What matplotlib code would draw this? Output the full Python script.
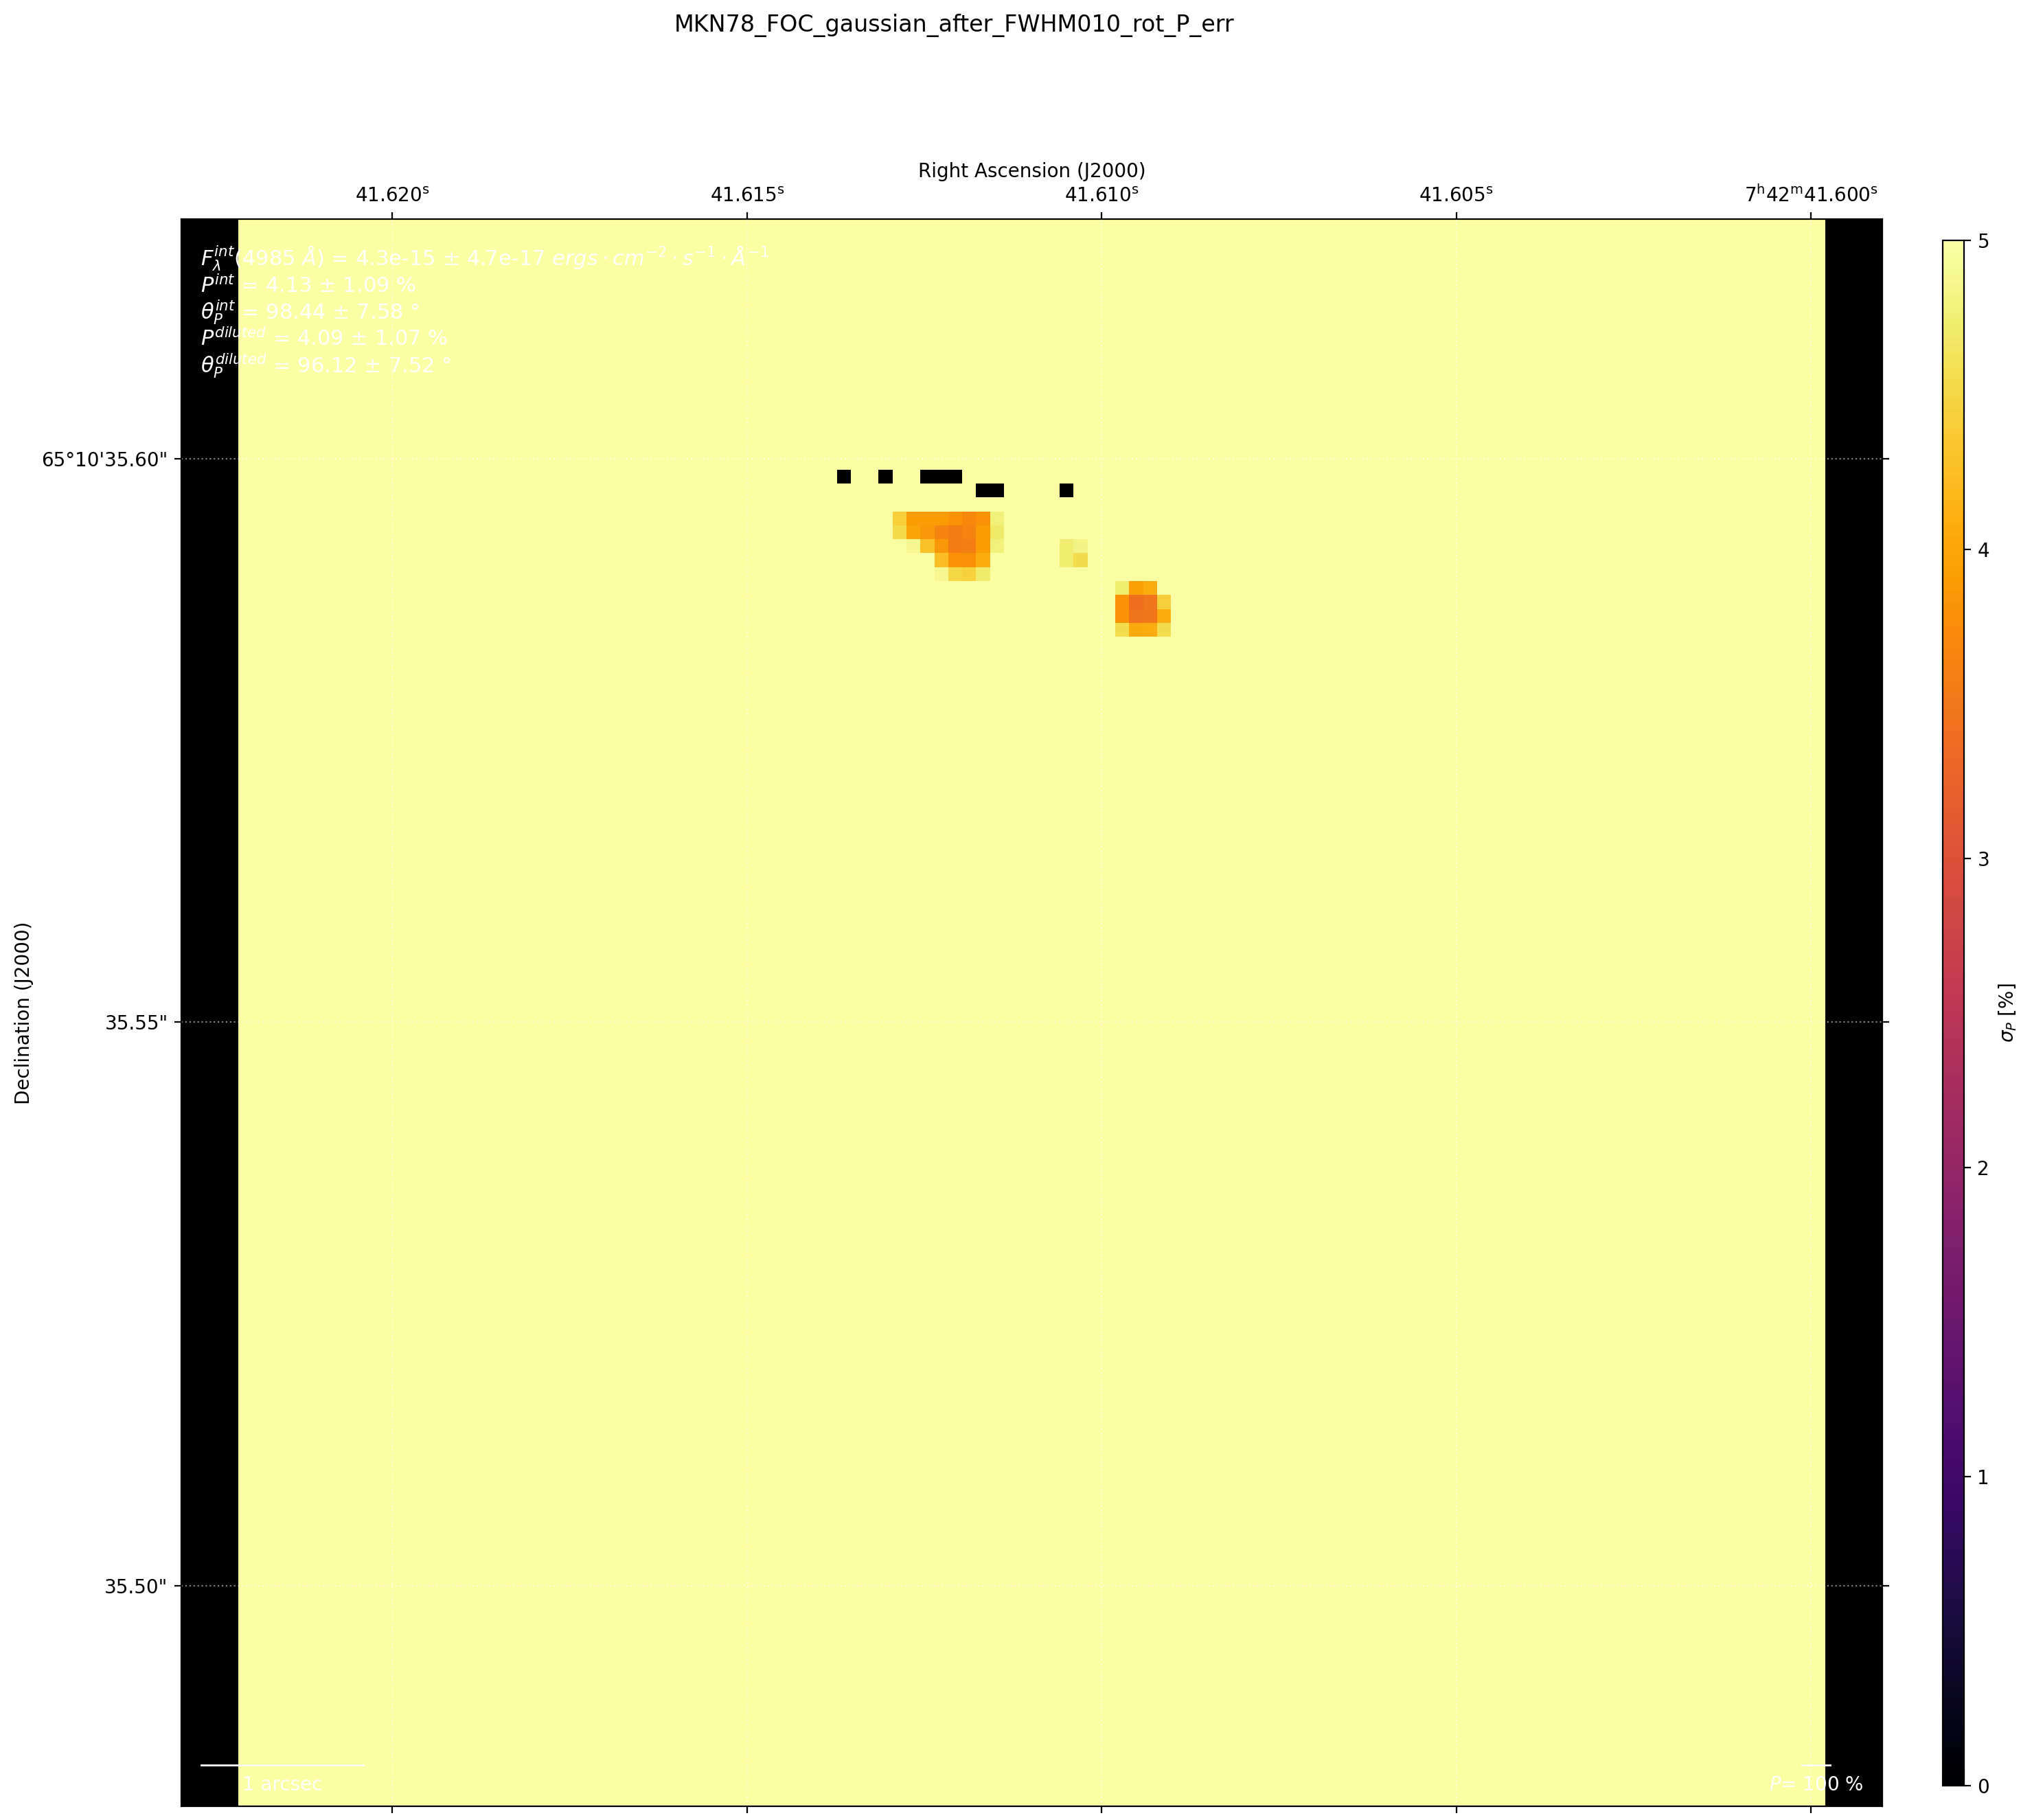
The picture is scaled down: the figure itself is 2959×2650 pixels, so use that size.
import numpy as np
import matplotlib.pyplot as plt

title = "MKN78_FOC_gaussian_after_FWHM010_rot_P_err"

# map size (pixels) and the saturated background value of sigma_P [%]
n_pix = 114
sigma_bg = 5.0

# masked (black) pixels
masked_rows = [18, 18, 18, 18, 18, 19, 19, 19]
masked_cols = [43, 46, 49, 50, 51, 53, 54, 59]

# knots of lower sigma_P, each with (row, col) of its top-left pixel, nan = background
knot1_origin = (21, 47)
knot1 = [[4.40, 3.89, 3.89, 3.89, 3.81, 3.71, 3.79, 4.78],
         [4.55, 4.00, 3.86, 3.65, 3.56, 3.65, 3.89, 4.70],
         [np.nan, 4.90, 4.29, 3.85, 3.56, 3.59, 3.89, 4.78],
         [np.nan, np.nan, np.nan, 4.25, 3.81, 3.77, 4.07, np.nan],
         [np.nan, np.nan, np.nan, 4.90, 4.50, 4.44, 4.72, np.nan]]

knot2_origin = (26, 63)
knot2 = [[4.73, 3.94, 4.07, np.nan],
         [3.81, 3.40, 3.46, 4.42],
         [3.81, 3.45, 3.48, 4.07],
         [4.56, 4.05, 4.07, 4.56]]

knot3_origin = (23, 59)
knot3 = [[4.73, 4.84],
         [4.73, 4.56]]

# coordinate grid
ra_ticks = [41.620, 41.615, 41.610, 41.605, 41.600]   # seconds of 7h42m
ra_labels = ['41.620$^{\\mathrm{s}}$', '41.615$^{\\mathrm{s}}$', '41.610$^{\\mathrm{s}}$',
             '41.605$^{\\mathrm{s}}$', '7$^{\\mathrm{h}}$42$^{\\mathrm{m}}$41.600$^{\\mathrm{s}}$']
dec_ticks = [35.60, 35.55, 35.50]                     # arcsec of +65d10'
dec_labels = ['65°10\'35.60"', '35.55"', '35.50"']

# pseudo-WCS: reference pixels and pixel scale
ra_ref, ra_ref_pix = 41.620, 10.55
dec_ref, dec_ref_pix = 35.60, 16.72
dec_deg = 65.1765
pix_arcsec = 0.0012355
pix_ra_s = pix_arcsec / (15 * np.cos(np.radians(dec_deg)))

info = [r"$F_{\lambda}^{int}$(4985 $\AA$) = 4.3e-15 $\pm$ 4.7e-17 $ergs \cdot cm^{-2} \cdot s^{-1} \cdot \AA^{-1}$",
        r"$P^{int}$ = 4.13 $\pm$ 1.09 %",
        r"$\theta_{P}^{int}$ = 98.44 $\pm$ 7.58 °",
        r"$P^{diluted}$ = 4.09 $\pm$ 1.07 %",
        r"$\theta_{P}^{diluted}$ = 96.12 $\pm$ 7.52 °"]

# build the map
p_err = np.full((n_pix, n_pix), sigma_bg)
for origin, knot in [(knot1_origin, knot1), (knot2_origin, knot2), (knot3_origin, knot3)]:
    k = np.array(knot)
    r0, c0 = origin
    sub = p_err[r0:r0 + k.shape[0], c0:c0 + k.shape[1]]
    sub[~np.isnan(k)] = k[~np.isnan(k)]
p_err[masked_rows, masked_cols] = np.nan

cmap = plt.get_cmap('inferno').copy()
cmap.set_bad('black')

fig = plt.figure(figsize=(2959 / 200, 2650 / 200), dpi=200)
ax = fig.add_axes([264 / 2959, 20 / 2650, 2477 / 2959, 2311 / 2650])
cax = fig.add_axes([2829 / 2959, 50 / 2650, 31 / 2959, 2250 / 2650])

ax.set_facecolor('black')
im = ax.imshow(p_err, cmap=cmap, vmin=0, vmax=5, origin='upper',
               interpolation='nearest', aspect='auto')
pad = 4.12
ax.set_xlim(-0.5 - pad, n_pix - 0.5 + pad)
ax.set_ylim(n_pix - 0.5, -0.5)

xt = [ra_ref_pix + (ra_ref - ra) / pix_ra_s for ra in ra_ticks]
yt = [dec_ref_pix + (dec_ref - d) / pix_arcsec for d in dec_ticks]
ax.set_xticks(xt)
ax.set_xticklabels(ra_labels)
ax.set_yticks(yt)
ax.set_yticklabels(dec_labels)
ax.tick_params(direction='out', top=True, bottom=True, left=True, right=True,
               labeltop=True, labelbottom=False, labelleft=True, labelright=False)
ax.xaxis.set_label_position('top')
ax.set_xlabel('Right Ascension (J2000)')
ax.set_ylabel('Declination (J2000)')
ax.grid(True, color='white', ls=':', alpha=0.5, lw=0.8)

ax.text(0.0113, 0.984, "\n".join(info), color='white', transform=ax.transAxes,
        ha='left', va='top', fontsize=11, linespacing=1.09)

# scale bar and polarisation vector scale
bar_len = 11.65
x0 = -0.5 - pad + 1.43
ax.plot([x0, x0 + bar_len], [110.55, 110.55], color='white', lw=1)
ax.text(x0 + bar_len / 2, 111.3, '1 arcsec', color='white', ha='center', va='top', fontsize=10)
xv = n_pix - 0.5 + pad - 4.75
ax.plot([xv - 1.0, xv + 1.0], [110.55, 110.55], color='white', lw=1)
ax.text(xv, 111.3, '$P$= 100 %', color='white', ha='center', va='top', fontsize=10)

cb = fig.colorbar(im, cax=cax, ticks=[0, 1, 2, 3, 4, 5])
cb.set_label(r'$\sigma_P$ [%]')

fig.suptitle(title, x=1390 / 2959, y=1 - 20 / 2650, va='top', fontsize=12)

fig.savefig('out.png', dpi=200)
